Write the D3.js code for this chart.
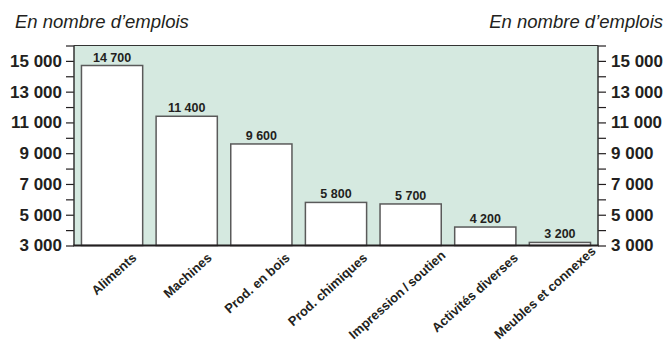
<!DOCTYPE html>
<html>
<head>
<meta charset="utf-8">
<script src="https://cdn.jsdelivr.net/npm/d3@7"></script>
<style>
  html, body { margin: 0; padding: 0; background: #fff; }
  svg { display: block; font-family: "Liberation Sans", Arial, Helvetica, sans-serif; }
</style>
</head>
<body>
<svg id="chart" width="665" height="343"></svg>
<script>
// Employment by manufacturing industry
const categories = ["Aliments", "Machines", "Prod. en bois", "Prod. chimiques",
                    "Impression\u2009/\u2009soutien", "Activités diverses", "Meubles et connexes"];
const jobs = [14700, 11400, 9600, 5800, 5700, 4200, 3200];
const tickValues = [3000, 5000, 7000, 9000, 11000, 13000, 15000];
const unitTitle = "En nombre d’emplois";

const width = 665, height = 343;
const svg = d3.select("#chart");
const plot = { left: 74, right: 598, top: 45.5, bottom: 245.5 };
const ink = "#231f20";

const x = d3.scaleBand()
  .domain(categories)
  .range([plot.left, plot.right])
  .paddingInner(0.18)
  .paddingOuter(0.1);

const y = d3.scaleLinear()
  .domain([3000, 16000])
  .range([plot.bottom, plot.top]);

const fmt = v => d3.format(",")(v).replace(/,/g, " ");

// plot background
svg.append("rect")
  .attr("x", plot.left).attr("y", plot.top)
  .attr("width", plot.right - plot.left).attr("height", plot.bottom - plot.top)
  .attr("fill", "#d5e9e0");

// top border
svg.append("line")
  .attr("x1", plot.left).attr("x2", plot.right)
  .attr("y1", plot.top).attr("y2", plot.top)
  .attr("stroke", "#333").attr("stroke-width", 1.2);

// axes: ticks at every thousand, labels on the odd thousands
const allTicks = d3.range(3000, 16001, 1000);
const leftAxis = d3.axisLeft(y).tickValues(allTicks).tickSize(8).tickPadding(4)
  .tickFormat(v => tickValues.includes(v) ? fmt(v) : "");
const rightAxis = d3.axisRight(y).tickValues(allTicks).tickSize(8).tickPadding(5)
  .tickFormat(v => tickValues.includes(v) ? fmt(v) : "");

function styleAxis(g) {
  g.select(".domain").remove();
  g.selectAll(".tick line").attr("stroke", ink).attr("stroke-width", 1.2);
  g.selectAll(".tick text")
    .attr("fill", ink)
    .attr("font-size", 17)
    .attr("font-weight", "bold");
}

svg.append("g").attr("transform", `translate(${plot.left},0)`).call(leftAxis).call(styleAxis);
svg.append("g").attr("transform", `translate(${plot.right},0)`).call(rightAxis).call(styleAxis);

// vertical axis lines
[plot.left, plot.right].forEach(px => {
  svg.append("line")
    .attr("x1", px).attr("x2", px)
    .attr("y1", plot.top).attr("y2", plot.bottom)
    .attr("stroke", "#333").attr("stroke-width", 1.5);
});

// bars
svg.append("g").selectAll("rect")
  .data(jobs)
  .join("rect")
  .attr("x", (d, i) => x(categories[i]))
  .attr("y", d => y(d))
  .attr("width", x.bandwidth())
  .attr("height", d => y(3000) - y(d))
  .attr("fill", "#fff")
  .attr("stroke", "#5a5a5a")
  .attr("stroke-width", 1.5);

// value labels
svg.append("g").selectAll("text")
  .data(jobs)
  .join("text")
  .attr("x", (d, i) => x(categories[i]) + x.bandwidth() / 2)
  .attr("y", d => y(d) - 4)
  .attr("text-anchor", "middle")
  .attr("font-size", 12.5)
  .attr("font-weight", "bold")
  .attr("fill", ink)
  .text(d => fmt(d));

// baseline
svg.append("line")
  .attr("x1", plot.left - 0.75).attr("x2", plot.right + 0.75)
  .attr("y1", plot.bottom).attr("y2", plot.bottom)
  .attr("stroke", ink).attr("stroke-width", 2.2);

// category labels, rotated; longer labels are nudged further right
// and lifted just enough to stay inside the drawing
const angle = 42, rad = angle * Math.PI / 180;
const catLabels = svg.append("g").selectAll("text")
  .data(categories)
  .join("text")
  .attr("text-anchor", "end")
  .attr("font-size", 13)
  .attr("font-weight", "bold")
  .attr("fill", ink)
  .text(d => d);
catLabels.attr("transform", function (d) {
  const len = this.getComputedTextLength();
  const cx = x(d) + x.bandwidth() / 2 + 17 + 0.15 * len;
  let cy = plot.bottom + 13.5;
  const lowest = cy + len * Math.sin(rad) + 3 * Math.cos(rad);
  if (lowest > height - 1) cy -= lowest - (height - 1);
  return `translate(${cx},${cy}) rotate(${-angle})`;
});

// unit titles
svg.append("text")
  .attr("x", 15).attr("y", 28)
  .attr("font-size", 18.5).attr("font-style", "italic")
  .attr("fill", ink)
  .text(unitTitle);
svg.append("text")
  .attr("x", 663).attr("y", 28)
  .attr("text-anchor", "end")
  .attr("font-size", 18.5).attr("font-style", "italic")
  .attr("fill", ink)
  .text(unitTitle);
</script>
</body>
</html>
